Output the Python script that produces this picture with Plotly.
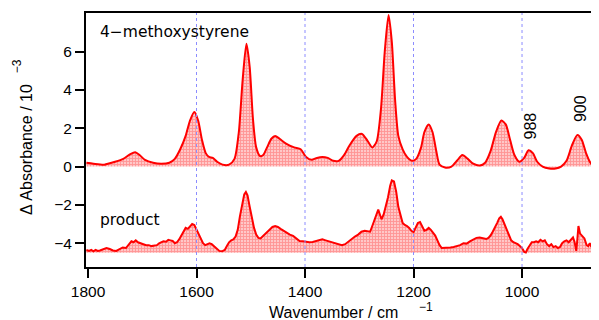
import plotly.graph_objects as go

# 4-methoxystyrene spectrum (wavenumber, ΔAbs /1e-3)
top_wn = [1803, 1790, 1770, 1750, 1735, 1722, 1713, 1705, 1695, 1680, 1665, 1650, 1640, 1630, 1620,
          1612, 1604, 1597, 1590, 1583, 1577, 1570, 1562, 1552, 1540, 1530, 1522, 1515, 1508, 1502,
          1496, 1490, 1483, 1477, 1470, 1462, 1455, 1447, 1435, 1420, 1408, 1398, 1388, 1378, 1368,
          1358, 1348, 1338, 1328, 1318, 1305, 1295, 1285, 1276, 1268, 1260, 1253, 1246, 1240, 1234,
          1228, 1220, 1212, 1203, 1195, 1186, 1180, 1172, 1165, 1158, 1152, 1142, 1130, 1120, 1110,
          1100, 1090, 1078, 1068, 1058, 1048, 1038, 1030, 1022, 1014, 1005, 996, 988, 980, 972,
          962, 950, 938, 928, 918, 908, 898, 890, 882, 874, 866, 857]
top_val = [0.2, 0.15, 0.1, 0.25, 0.4, 0.65, 0.75, 0.6, 0.35, 0.2, 0.15, 0.2, 0.4, 0.9, 1.6,
           2.4, 2.85, 2.4, 1.4, 0.7, 0.5, 0.45, 0.25, 0.1, 0.1, 0.4, 1.8, 4.5, 6.4, 5.2,
           2.5, 1.0, 0.55, 0.6, 1.0, 1.45, 1.6, 1.45, 1.2, 1.0, 0.9, 0.5, 0.35, 0.45, 0.5,
           0.45, 0.3, 0.3, 0.6, 1.1, 1.6, 1.7, 1.35, 1.0, 1.3, 3.0, 6.0, 7.9, 6.5, 3.5,
           1.6, 0.9, 0.5, 0.3, 0.4, 1.0, 1.8, 2.2, 1.8, 0.8, 0.1, -0.05, 0.0, 0.3, 0.6,
           0.4, 0.15, 0.05, 0.2, 0.8, 1.8, 2.4, 2.2, 1.4, 0.6, 0.25, 0.45, 0.85, 0.7, 0.25,
           0.0, -0.1, -0.1, 0.0, 0.3, 1.1, 1.65, 1.4, 0.7, 0.2, 0.0, -0.05]

# product spectrum (offset)
prod_wn = [1803, 1798, 1794, 1790, 1786, 1782, 1778, 1772, 1766, 1760, 1754, 1748, 1742, 1736, 1730,
           1725, 1720, 1716, 1712, 1708, 1703, 1698, 1693, 1688, 1683, 1678, 1673, 1669, 1665, 1661,
           1656, 1652, 1648, 1644, 1640, 1636, 1632, 1628, 1624, 1620, 1616, 1612, 1608, 1604, 1600,
           1596, 1592, 1588, 1584, 1580, 1576, 1572, 1568, 1563, 1558, 1553, 1548, 1544, 1540, 1536,
           1532, 1528, 1524, 1520, 1516, 1512, 1509, 1506, 1502, 1498, 1494, 1490, 1486, 1482, 1478,
           1472, 1466, 1460, 1455, 1450, 1445, 1440, 1434, 1428, 1422, 1416, 1410, 1404, 1398, 1392,
           1386, 1380, 1374, 1368, 1362, 1356, 1350, 1344, 1338, 1332, 1326, 1320, 1314, 1308, 1302,
           1296, 1290, 1285, 1280, 1276, 1272, 1268, 1265, 1262, 1259, 1255, 1251, 1247, 1243, 1240,
           1236, 1232, 1228, 1224, 1220, 1216, 1212, 1208, 1204, 1200, 1196, 1192, 1188, 1184, 1180,
           1176, 1172, 1168, 1164, 1160, 1156, 1152, 1148, 1140, 1132, 1126, 1120, 1114, 1108, 1102,
           1096, 1090, 1084, 1078, 1072, 1066, 1062, 1058, 1054, 1050, 1046, 1042, 1039, 1036, 1032,
           1028, 1024, 1020, 1016, 1012, 1008, 1004, 1000, 996, 993, 990, 986, 982, 978, 974,
           970, 966, 962, 958, 954, 950, 946, 942, 938, 934, 930, 926, 922, 918, 914,
           910, 906, 903, 900, 898, 896, 893, 889, 885, 881, 878, 875, 872, 869, 866,
           863, 860, 857]
prod_val = [-4.35, -4.4, -4.35, -4.42, -4.35, -4.4, -4.38, -4.3, -4.25, -4.3, -4.38, -4.4, -4.3, -4.22, -4.25,
            -4.1, -3.9, -3.95, -3.85, -3.95, -3.98, -4.05, -4.1, -4.1, -4.15, -4.12, -4.1, -4.0, -3.95, -3.9,
            -3.92, -3.82, -3.85, -3.88, -4.0, -3.95, -3.8, -3.6, -3.35, -3.2, -3.25, -3.15, -3.0, -3.05, -3.3,
            -3.5, -3.75, -4.0, -4.1, -4.05, -4.0, -4.05, -4.15, -4.3, -4.4, -4.42, -4.35, -4.15, -3.95, -3.85,
            -3.8, -3.65, -3.3, -2.6, -2.0, -1.45, -1.33, -1.5, -2.1, -2.7, -3.2, -3.55, -3.72, -3.75, -3.65,
            -3.5, -3.3, -3.15, -3.1, -3.15, -3.25, -3.35, -3.45, -3.55, -3.62, -3.75, -3.88, -3.9, -3.92, -3.95,
            -3.93, -3.88, -3.85, -3.8, -3.85, -3.9, -3.98, -4.03, -4.08, -4.1, -4.05, -3.9, -3.75, -3.65, -3.55,
            -3.4, -3.35, -3.38, -3.4, -3.1, -2.75, -2.45, -2.25, -2.5, -2.75, -2.5, -2.1, -1.6, -1.0, -0.72,
            -0.78, -1.3, -2.1, -2.6, -2.95, -3.05, -3.1, -3.2, -3.35, -3.42, -3.2, -2.95, -2.9, -3.1, -3.35,
            -3.3, -3.2, -3.3, -3.45, -3.6, -3.85, -4.1, -4.25, -4.25, -4.22, -4.2, -4.15, -4.1, -4.0, -4.02,
            -3.9, -3.8, -3.72, -3.7, -3.75, -3.78, -3.72, -3.6, -3.4, -3.2, -2.95, -2.7, -2.62, -2.75, -3.05,
            -3.35, -3.65, -3.85, -3.95, -4.0, -4.05, -4.15, -4.25, -4.45, -4.48, -4.3, -4.1, -3.95, -3.95, -3.9,
            -3.95, -3.82, -3.9, -3.85, -4.05, -4.15, -4.05, -4.2, -4.15, -4.25, -4.2, -4.0, -3.9, -3.85, -3.95,
            -3.8, -3.7, -3.95, -4.4, -3.8, -3.1, -3.5, -3.6, -3.75, -4.1, -4.15, -4.0, -4.2, -4.05, -3.8,
            -3.85, -3.95, -3.9]
prod_baseline = -4.5

x_ticks = [1800, 1600, 1400, 1200, 1000]
y_ticks = [-4, -2, 0, 2, 4, 6]
guide_lines = [1600, 1400, 1200, 1000]
x_range = [1803.7, 858.1]
y_range = [-5.24, 8.01]

RED = "#ff0000"
FONT = "Liberation Sans, Arial, sans-serif"
LABEL_FONT = "DejaVu Sans, Liberation Sans, sans-serif"
pattern = dict(shape="+", fgcolor="#ff6060", bgcolor="#ffc8c8", size=3, solidity=0.5)

fig = go.Figure()
fig.add_trace(go.Scatter(x=top_wn, y=top_val, mode="lines", fill="tozeroy",
                         line=dict(color=RED, width=2, shape="spline", smoothing=0.7),
                         fillpattern=pattern, fillcolor="rgba(0,0,0,0)", showlegend=False))
fig.add_trace(go.Scatter(x=[x_range[0], x_range[1]], y=[prod_baseline, prod_baseline],
                         mode="lines", line=dict(width=0, color="rgba(0,0,0,0)"), showlegend=False,
                         hoverinfo="skip"))
fig.add_trace(go.Scatter(x=prod_wn, y=prod_val, mode="lines", fill="tonexty",
                         line=dict(color=RED, width=2),
                         fillpattern=pattern, fillcolor="rgba(0,0,0,0)", showlegend=False))

for g in guide_lines:
    fig.add_shape(type="line", x0=g, x1=g, y0=0, y1=1, xref="x", yref="paper",
                  line=dict(color="#8c8cff", width=1, dash="dot"), layer="above")

# trace labels
fig.add_annotation(x=1782, y=7.0, text="4\u2212methoxystyrene", showarrow=False, xanchor="left",
                   yanchor="middle", font=dict(family=LABEL_FONT, size=15.5, color="black"))
fig.add_annotation(x=1782, y=-2.8, text="product", showarrow=False, xanchor="left",
                   yanchor="middle", font=dict(family=LABEL_FONT, size=15.5, color="black"))

# peak labels
fig.add_annotation(x=985, y=2.1, text="988", textangle=-90, showarrow=False,
                   bgcolor="white", font=dict(family=FONT, size=16, color="black"))
fig.add_annotation(x=893, y=3.0, text="900", textangle=-90, showarrow=False,
                   bgcolor="white", font=dict(family=FONT, size=16, color="black"))

# axis titles (placed as annotations)
fig.add_annotation(x=0.4834, y=-0.181, xref="paper", yref="paper", text="Wavenumber / cm",
                   showarrow=False, xanchor="center", yanchor="middle",
                   font=dict(family=FONT, size=16, color="black"))
fig.add_annotation(x=0.662, y=-0.1575, xref="paper", yref="paper", text="\u22121",
                   showarrow=False, xanchor="center", yanchor="middle",
                   font=dict(family=FONT, size=12, color="black"))
fig.add_annotation(x=-0.115, y=0.461, xref="paper", yref="paper", text="\u0394 Absorbance / 10",
                   showarrow=False, textangle=-90, xanchor="center", yanchor="middle",
                   font=dict(family=FONT, size=16, color="black"))
fig.add_annotation(x=-0.1345, y=0.79, xref="paper", yref="paper", text="\u22123",
                   showarrow=False, textangle=-90, xanchor="center", yanchor="middle",
                   font=dict(family=FONT, size=12, color="black"))

# page body has an 8px default margin, so the figure is 8px smaller than the window
fig.update_layout(
    width=591, height=312,
    margin=dict(l=78, r=0, t=5, b=53, autoexpand=False),
    paper_bgcolor="white", plot_bgcolor="white",
    font=dict(family=FONT, size=14, color="black"),
    xaxis=dict(range=x_range, tickvals=x_ticks, ticks="outside", ticklen=9, tickwidth=1.5,
               tickcolor="black", showline=True, linecolor="black", linewidth=2, mirror=True,
               showgrid=False, zeroline=False, tickfont=dict(size=15.5), automargin=False),
    yaxis=dict(range=y_range, tickvals=y_ticks, ticks="outside", ticklen=9, tickwidth=1.5,
               tickcolor="black", showline=True, linecolor="black", linewidth=2, mirror=False,
               showgrid=False, zeroline=False, tickfont=dict(size=15.5), automargin=False),
)

fig.write_html("out.html")
